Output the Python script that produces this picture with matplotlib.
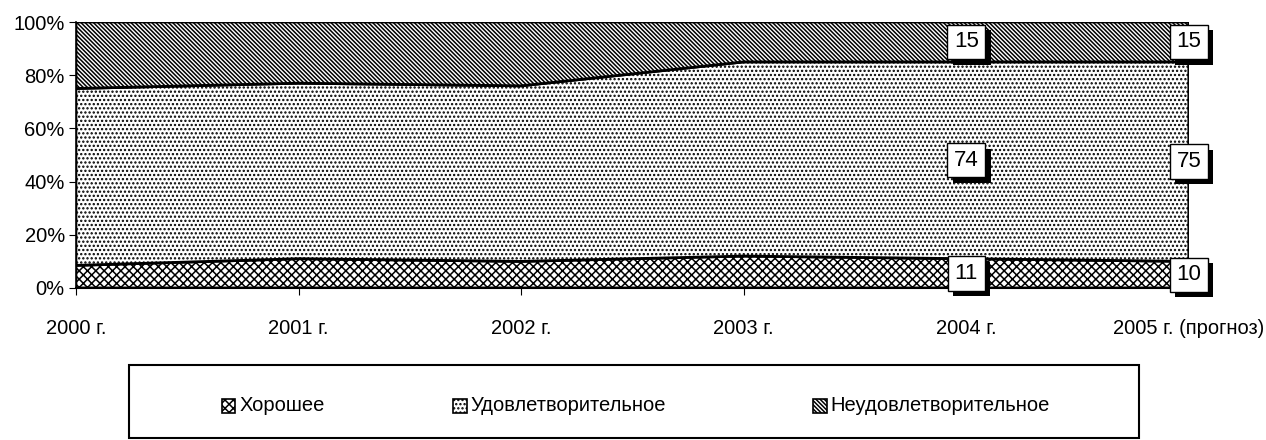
import matplotlib
matplotlib.use("Agg")
import matplotlib.pyplot as plt
import matplotlib.patheffects as pe
from matplotlib.patches import Rectangle
from matplotlib import font_manager

years = ["2000 г.", "2001 г.", "2002 г.", "2003 г.", "2004 г.", "2005 г. (прогноз)"]
good = [8.5, 11, 10, 12, 11, 10]
satisf = [66.5, 66, 66, 73, 74, 75]
unsatisf = [25, 23, 24, 15, 15, 15]
series_names = ["Хорошее", "Удовлетворительное", "Неудовлетворительное"]
label_idx = [4, 5]

names = {f.name for f in font_manager.fontManager.ttflist}
fam = "Liberation Sans Narrow" if "Liberation Sans Narrow" in names else "Liberation Sans"
plt.rcParams["font.family"] = [fam, "DejaVu Sans"]
plt.rcParams["hatch.linewidth"] = 1.1

fig = plt.figure(figsize=(12.66, 4.4), dpi=100)
ax = fig.add_axes([0.060, 0.3455, 0.879, 0.6045])

x = list(range(len(years)))
polys = ax.stackplot(x, good, satisf, unsatisf, colors=["white"] * 3,
                     edgecolor="black", linewidth=2.0)
hatches = ["xxxx", "....", "\\\\\\\\\\\\\\\\"]
for p, h in zip(polys, hatches):
    p.set_hatch(h)

ax.set_xlim(0, len(years) - 1)
ax.set_ylim(0, 100)
ax.set_yticks([0, 20, 40, 60, 80, 100])
ax.set_yticklabels([f"{v}%" for v in [0, 20, 40, 60, 80, 100]], fontsize=14.5)
ax.set_xticks(x)
ax.set_xticklabels(years, fontsize=14.5)
ax.tick_params(axis="x", length=5, width=0.8, pad=17)
ax.tick_params(axis="y", length=5, width=0.8, pad=3)
for s in ["top", "right"]:
    ax.spines[s].set_visible(False)
ax.spines["left"].set_linewidth(1.2)
ax.spines["bottom"].set_linewidth(1.5)

for i in label_idx:
    vals = [good[i], satisf[i], unsatisf[i]]
    base = 0
    for v in vals:
        t = ax.text(i, base + v / 2, f"{v:g}", ha="center", va="center", fontsize=16,
                    bbox=dict(boxstyle="square,pad=0.3", fc="white", ec="black", lw=1.0),
                    zorder=5, clip_on=False)
        t.get_bbox_patch().set_path_effects([
            pe.SimplePatchShadow(offset=(4, -4), shadow_rgbFace="black", alpha=1.0),
            pe.Normal()])
        base += v

# legend
fig.patches.append(Rectangle((0.102, 0.005), 0.798, 0.165, transform=fig.transFigure,
                             fill=False, ec="black", lw=1.5))
leg_x = [0.175, 0.358, 0.642]
for lx, name, h in zip(leg_x, series_names, hatches):
    fig.patches.append(Rectangle((lx, 0.062), 0.011, 0.032, transform=fig.transFigure,
                                 fc="white", ec="black", lw=1.2, hatch=h))
    fig.text(lx + 0.014, 0.078, name, fontsize=14.5, va="center", ha="left")

fig.savefig("out.png", dpi=100)
